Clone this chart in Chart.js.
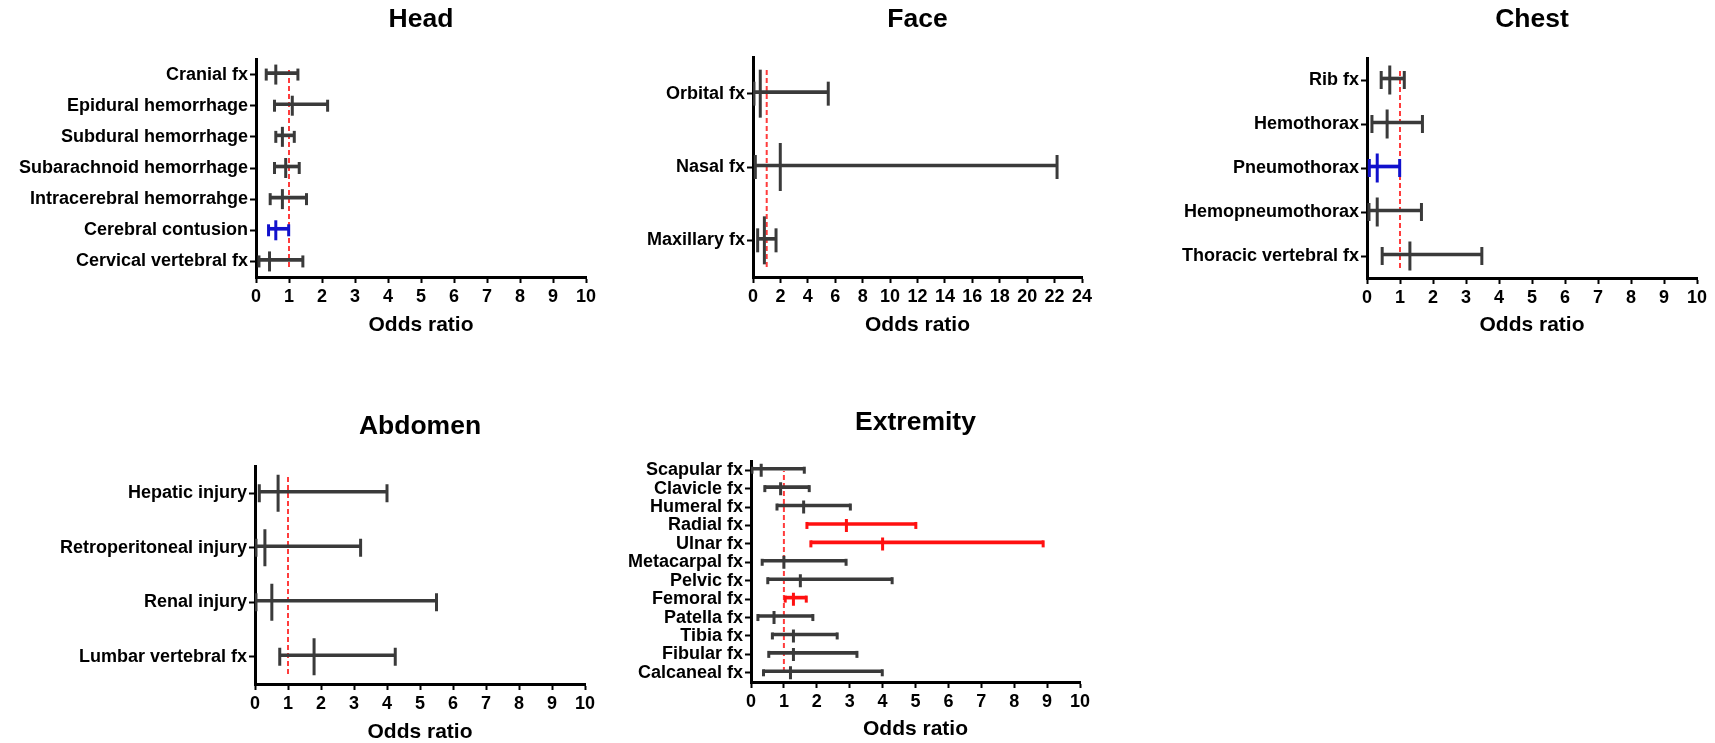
<!DOCTYPE html>
<html>
<head>
<meta charset="utf-8">
<title>Odds ratios by injury region</title>
<script src="https://cdn.jsdelivr.net/npm/chart.js@4.4.1/dist/chart.umd.min.js"></script>
<style>
  html, body { margin: 0; padding: 0; background: #fff; }
  body { width: 1715px; height: 743px; position: relative; overflow: hidden; }
  canvas { position: absolute; }
</style>
</head>
<body>
<canvas id="head"></canvas>
<canvas id="face"></canvas>
<canvas id="chest"></canvas>
<canvas id="abdomen"></canvas>
<canvas id="extremity"></canvas>
<script>
// Head
const headLabels = ['Cranial fx', 'Epidural hemorrhage', 'Subdural hemorrhage', 'Subarachnoid hemorrhage',
  'Intracerebral hemorrahge', 'Cerebral contusion', 'Cervical vertebral fx'];
const headOR   = [0.60, 1.10, 0.80, 0.90, 0.80, 0.60, 0.41];
const headLow  = [0.31, 0.56, 0.60, 0.56, 0.43, 0.38, 0.09];
const headHigh = [1.27, 2.17, 1.16, 1.31, 1.53, 0.99, 1.42];

// Face
const faceLabels = ['Orbital fx', 'Nasal fx', 'Maxillary fx'];
const faceOR   = [0.53, 1.99, 0.83];
const faceLow  = [0.07, 0.17, 0.34];
const faceHigh = [5.49, 22.18, 1.68];

// Chest
const chestLabels = ['Rib fx', 'Hemothorax', 'Pneumothorax', 'Hemopneumothorax', 'Thoracic vertebral fx'];
const chestOR   = [0.69, 0.61, 0.31, 0.31, 1.30];
const chestLow  = [0.43, 0.15, 0.07, 0.06, 0.46];
const chestHigh = [1.13, 1.68, 0.99, 1.65, 3.48];

// Abdomen
const abdomenLabels = ['Hepatic injury', 'Retroperitoneal injury', 'Renal injury', 'Lumbar vertebral fx'];
const abdomenOR   = [0.70, 0.30, 0.51, 1.79];
const abdomenLow  = [0.13, 0.03, 0.03, 0.75];
const abdomenHigh = [4.00, 3.20, 5.50, 4.25];

// Extremity
const extremityLabels = ['Scapular fx', 'Clavicle fx', 'Humeral fx', 'Radial fx', 'Ulnar fx', 'Metacarpal fx',
  'Pelvic fx', 'Femoral fx', 'Patella fx', 'Tibia fx', 'Fibular fx', 'Calcaneal fx'];
const extremityOR   = [0.31, 0.90, 1.60, 2.90, 4.00, 1.00, 1.50, 1.29, 0.70, 1.29, 1.29, 1.20];
const extremityLow  = [0.03, 0.42, 0.79, 1.70, 1.82, 0.34, 0.51, 1.04, 0.21, 0.65, 0.54, 0.38];
const extremityHigh = [1.62, 1.77, 3.02, 5.01, 8.88, 2.89, 4.29, 1.68, 1.88, 2.62, 3.22, 3.99];

const refLine = 1; // odds ratio = 1

const FONT = '"Liberation Sans", Arial, sans-serif';
const GREY = '#3a3a3a', BLUE = '#1111cc', RED = '#ff1010', REF = '#ff3c3c';

// whole CI below 1 -> blue, whole CI above 1 -> red
function ciColour(lo, hi) {
  if (hi < refLine) return BLUE;
  if (lo > refLine) return RED;
  return GREY;
}

function makePanel(p) {
  const canvas = document.getElementById(p.id);
  canvas.width = p.w;
  canvas.height = p.h;
  canvas.style.left = p.left + 'px';
  canvas.style.top = p.top + 'px';

  const colours = p.labels.map((_, i) => ciColour(p.low[i], p.high[i]));
  const bars = p.labels.map((_, i) => [p.low[i], p.high[i]]);
  const caps = [], capColours = [];
  p.labels.forEach((lab, i) => {
    caps.push({ x: p.low[i], y: lab }, { x: p.high[i], y: lab });
    capColours.push(colours[i], colours[i]);
  });
  const mids = p.labels.map((lab, i) => ({ x: p.or[i], y: lab }));

  new Chart(canvas, {
    type: 'bar',
    data: {
      labels: p.labels,
      datasets: [
        { type: 'bar', data: bars, backgroundColor: colours, barThickness: p.lw, borderWidth: 0,
          xAxisID: 'x', yAxisID: 'y' },
        { type: 'line', data: caps, showLine: false, pointStyle: 'line', pointRotation: 90,
          pointRadius: p.capR, pointBorderWidth: p.lw, pointBorderColor: capColours,
          pointBackgroundColor: capColours, xAxisID: 'x', yAxisID: 'y' },
        { type: 'line', data: mids, showLine: false, pointStyle: 'line', pointRotation: 90,
          pointRadius: p.midR, pointBorderWidth: p.lw, pointBorderColor: colours,
          pointBackgroundColor: colours, xAxisID: 'x', yAxisID: 'y' },
        // dashed reference line, last so it is drawn underneath
        { type: 'line', data: [{ x: refLine, y: 0 }, { x: refLine, y: 1 }], xAxisID: 'x', yAxisID: 'yr',
          borderColor: REF, borderWidth: 2, borderDash: [5, 3], pointRadius: 0, fill: false }
      ]
    },
    options: {
      responsive: false,
      animation: false,
      events: [],
      indexAxis: 'y',
      layout: { padding: { top: 0, left: 0, right: p.padRight, bottom: 0 } },
      plugins: {
        legend: { display: false },
        tooltip: { enabled: false },
        title: {
          display: true, text: p.title, fullSize: false, color: '#000',
          font: { family: FONT, size: 26.5, weight: 'bold' },
          padding: { top: p.tTop, bottom: p.tBottom }
        }
      },
      scales: {
        x: {
          type: 'linear', position: 'bottom', min: 0, max: p.xMax,
          ticks: { stepSize: p.step, autoSkip: false, maxRotation: 0, color: '#000', padding: 3,
            font: { family: FONT, size: 18, weight: 'bold' } },
          grid: { drawOnChartArea: false, drawTicks: true, tickLength: 6, tickWidth: 2, tickColor: '#000' },
          border: { display: true, color: '#000', width: 3 },
          title: { display: true, text: 'Odds ratio', color: '#000',
            font: { family: FONT, size: 21, weight: 'bold' },
            padding: { top: 0, bottom: p.aPad } },
          afterFit: s => { s.height = p.xH; }
        },
        y: {
          type: 'category', position: 'left', offset: true,
          ticks: { autoSkip: false, color: '#000', padding: 2,
            font: { family: FONT, size: 18, weight: 'bold' } },
          grid: { offset: false, drawOnChartArea: false, drawTicks: true, tickLength: 6, tickWidth: 2,
            tickColor: '#000' },
          border: { display: true, color: '#000', width: 3 },
          afterFit: s => { s.width = p.yW; }
        },
        yr: { type: 'linear', display: false, position: 'right', min: 0, max: 1 }
      }
    }
  });
}

makePanel({ id: 'head', title: 'Head', labels: headLabels, or: headOR, low: headLow, high: headHigh,
  xMax: 10, step: 1, left: 0, top: 0, w: 615, h: 340, yW: 256, padRight: 29, xH: 63, aPad: 2,
  tTop: 4.1, tBottom: 23.1, midR: 10, capR: 6, lw: 3 });

makePanel({ id: 'face', title: 'Face', labels: faceLabels, or: faceOR, low: faceLow, high: faceHigh,
  xMax: 24, step: 2, left: 620, top: 0, w: 490, h: 340, yW: 133, padRight: 28, xH: 63, aPad: 2,
  tTop: 4.1, tBottom: 21.1, midR: 24, capR: 12, lw: 3 });

makePanel({ id: 'chest', title: 'Chest', labels: chestLabels, or: chestOR, low: chestLow, high: chestHigh,
  xMax: 10, step: 1, left: 1150, top: 0, w: 565, h: 340, yW: 217, padRight: 18, xH: 62, aPad: 2,
  tTop: 4.1, tBottom: 22.1, midR: 14.5, capR: 9, lw: 3 });

makePanel({ id: 'abdomen', title: 'Abdomen', labels: abdomenLabels, or: abdomenOR, low: abdomenLow,
  high: abdomenHigh, xMax: 10, step: 1, left: 0, top: 360, w: 615, h: 385, yW: 255, padRight: 30, xH: 61,
  aPad: 0, tTop: 51, tBottom: 23.2, midR: 18.5, capR: 9, lw: 3 });

makePanel({ id: 'extremity', title: 'Extremity', labels: extremityLabels, or: extremityOR,
  low: extremityLow, high: extremityHigh, xMax: 10, step: 1, left: 615, top: 360, w: 495, h: 383,
  yW: 136, padRight: 30, xH: 61, aPad: 1, tTop: 47.1, tBottom: 22.1, midR: 6.5, capR: 3.5, lw: 3 });
</script>
</body>
</html>
